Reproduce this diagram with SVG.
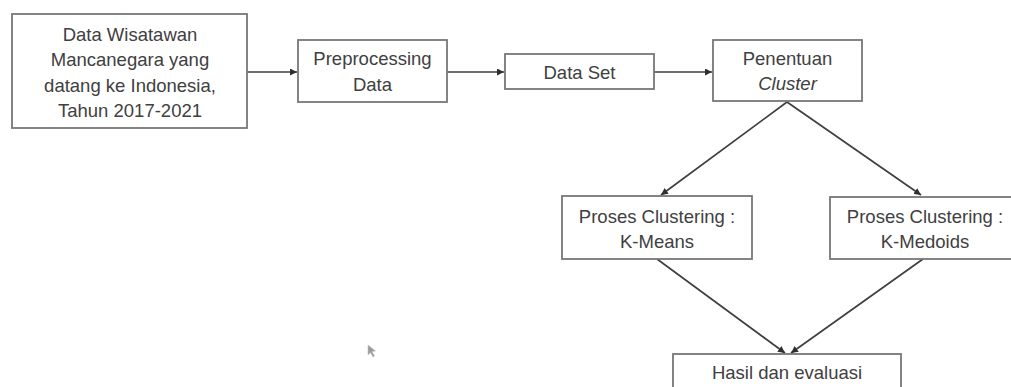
<svg xmlns="http://www.w3.org/2000/svg" width="1011" height="387" viewBox="0 0 1011 387">
  <style>
    .box { fill: #ffffff; stroke: #777777; stroke-width: 1.8; }
    .lbl { font-family: "Liberation Sans", Arial, sans-serif; font-size: 18.5px; fill: #404040; text-anchor: middle; }
    .it { font-style: italic; }
    .link { fill: none; stroke: #3f3f3f; stroke-width: 1.7; marker-end: url(#arrow); }
  </style>
  <defs>
    <marker id="arrow" viewBox="0 0 10 10" refX="10" refY="5" markerWidth="7" markerHeight="7" orient="auto" markerUnits="userSpaceOnUse">
      <path d="M0,0 L10,5 L0,10 Z" fill="#2f2f2f"/>
    </marker>
  </defs>
  <rect width="1011" height="387" fill="#ffffff"/>

  <g id="connectors">
    <line class="link" x1="247" y1="72" x2="297" y2="72"/>
    <line class="link" x1="447" y1="72" x2="504" y2="72"/>
    <line class="link" x1="654" y1="72" x2="712" y2="72"/>
    <line class="link" x1="787" y1="102" x2="661" y2="195"/>
    <line class="link" x1="787" y1="102" x2="921" y2="195"/>
    <line class="link" x1="657" y1="259" x2="785" y2="353"/>
    <line class="link" x1="923" y1="259" x2="791" y2="353"/>
  </g>

  <g id="data-wisatawan">
    <rect class="box" x="12" y="14" width="235" height="114"/>
    <text class="lbl" x="130" y="41">Data Wisatawan</text>
    <text class="lbl" x="130" y="66">Mancanegara yang</text>
    <text class="lbl" x="130" y="92">datang ke Indonesia,</text>
    <text class="lbl" x="130" y="117">Tahun 2017-2021</text>
  </g>

  <g id="preprocessing">
    <rect class="box" x="298" y="40" width="149" height="62"/>
    <text class="lbl" x="372.5" y="65">Preprocessing</text>
    <text class="lbl" x="372.5" y="91">Data</text>
  </g>

  <g id="data-set">
    <rect class="box" x="505" y="54" width="149" height="35"/>
    <text class="lbl" x="579.5" y="79">Data Set</text>
  </g>

  <g id="penentuan-cluster">
    <rect class="box" x="713" y="40" width="149" height="61"/>
    <text class="lbl" x="787.5" y="65">Penentuan</text>
    <text class="lbl it" x="787.5" y="90">Cluster</text>
  </g>

  <g id="k-means">
    <rect class="box" x="562" y="196" width="190" height="63"/>
    <text class="lbl" x="657" y="223">Proses Clustering :</text>
    <text class="lbl" x="657" y="248">K-Means</text>
  </g>

  <g id="k-medoids">
    <rect class="box" x="830" y="197" width="191" height="62"/>
    <text class="lbl" x="925" y="223">Proses Clustering :</text>
    <text class="lbl" x="925" y="248">K-Medoids</text>
  </g>

  <g id="hasil-evaluasi">
    <rect class="box" x="673" y="354" width="228" height="50"/>
    <text class="lbl" x="787" y="379">Hasil dan evaluasi</text>
  </g>

  <!-- pointer -->
  <path d="M368,345 L368,355 L370.5,352.5 L373,357 L374.5,356 L372,351.5 L375.5,351 Z" fill="#9a9a9a" stroke="#c8b8c8" stroke-width="0.6"/>
</svg>
